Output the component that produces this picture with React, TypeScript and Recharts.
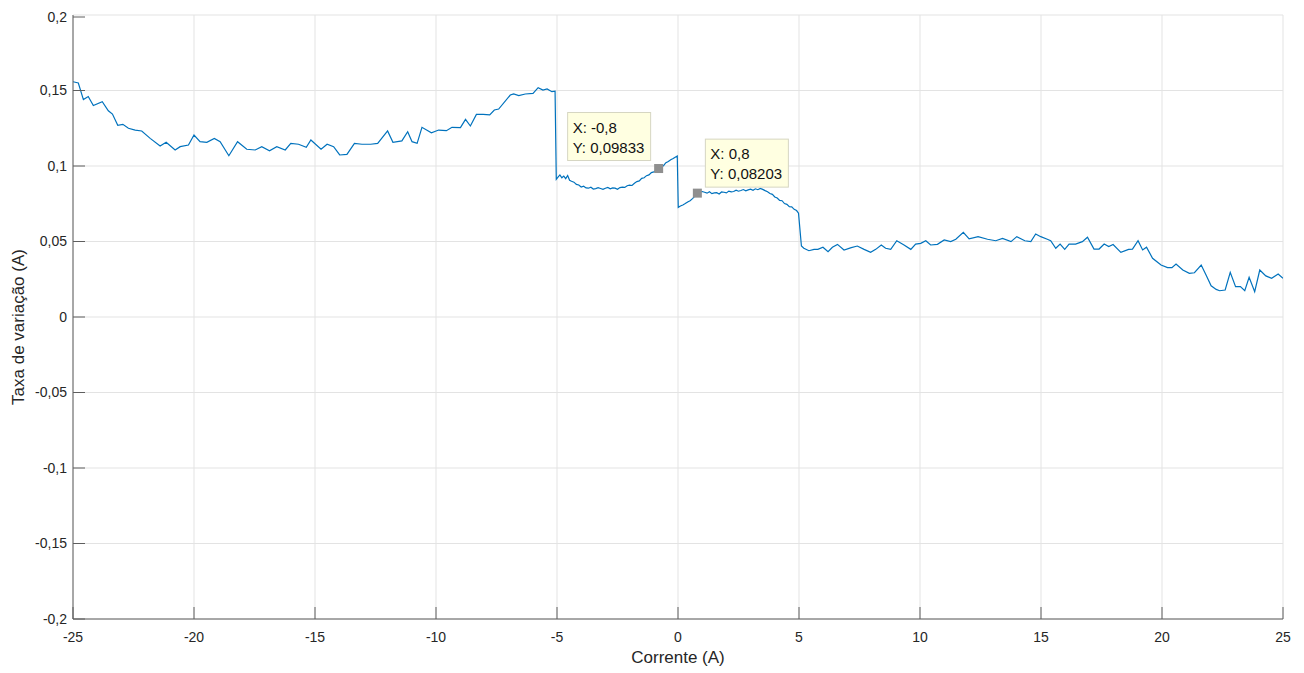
import {
  CartesianGrid,
  Line,
  LineChart,
  ReferenceDot,
  XAxis,
  YAxis,
} from "recharts";

// Corrente (A) / taxa de variação (A), region below -5 A
const leftCurrent = [
  -25.0, -24.78, -24.57, -24.37, -24.16, -23.79, -23.54, -23.37, -23.15, -22.94,
  -22.71, -22.43, -22.16, -21.81, -21.4, -21.15, -20.78, -20.57, -20.23, -20.0,
  -19.75, -19.47, -19.16, -18.92, -18.56, -18.2, -17.82, -17.47, -17.2, -16.88,
  -16.58, -16.23, -16.0, -15.68, -15.36, -15.17, -14.75, -14.5, -14.23, -13.98,
  -13.68, -13.37, -13.06, -12.7, -12.41, -12.0, -11.78, -11.41, -11.17, -10.99,
  -10.78, -10.58, -10.19, -9.89, -9.57, -9.34, -8.99, -8.78, -8.58, -8.33,
  -8.05, -7.78, -7.59, -7.41, -6.93, -6.79, -6.58, -6.31, -5.99, -5.78,
  -5.58, -5.41, -5.21, -5.08,
];
const leftRate = [
  0.1558, 0.155, 0.144, 0.146, 0.14, 0.1426, 0.1366, 0.1344, 0.127, 0.1276,
  0.125, 0.1238, 0.1232, 0.1183, 0.1132, 0.1157, 0.1106, 0.1128, 0.1139, 0.1205,
  0.1161, 0.1157, 0.1183, 0.1161, 0.1068, 0.1161, 0.1111, 0.1106, 0.1128, 0.1101,
  0.1128, 0.1106, 0.115, 0.1144, 0.1124, 0.1172, 0.1111, 0.1144, 0.1128, 0.1073,
  0.1077, 0.115, 0.1144, 0.1144, 0.115, 0.1232, 0.1157, 0.1166, 0.1227, 0.1161,
  0.115, 0.1256, 0.122, 0.1238, 0.1234, 0.1256, 0.1254, 0.1309, 0.1265, 0.1342,
  0.1342, 0.1338, 0.1371, 0.1377, 0.147, 0.1477, 0.1466, 0.1477, 0.1481, 0.1519,
  0.1503, 0.151, 0.1492, 0.1495,
];

// -5 A .. 0 A
const midNegCurrent = [
  -5.03, -4.95, -4.88, -4.8, -4.72, -4.64, -4.56, -4.48, -4.4, -4.3,
  -4.2, -4.1, -4.0, -3.9, -3.8, -3.7, -3.6, -3.5, -3.4, -3.3,
  -3.2, -3.1, -3.0, -2.9, -2.8, -2.7, -2.6, -2.5, -2.4, -2.3,
  -2.2, -2.1, -2.0, -1.9, -1.8, -1.7, -1.6, -1.5, -1.4, -1.3,
  -1.2, -1.1, -1.0, -0.9, -0.8, -0.7, -0.6, -0.5, -0.4, -0.3,
  -0.2, -0.1, -0.03,
];
const midNegRate = [
  0.0912, 0.0928, 0.0941, 0.0922, 0.0933, 0.0916, 0.0937, 0.0905, 0.0899, 0.0893,
  0.0878, 0.0874, 0.0861, 0.0866, 0.0855, 0.0853, 0.0859, 0.0847, 0.085, 0.0856,
  0.0851, 0.0845, 0.0853, 0.0858, 0.0849, 0.0855, 0.0853, 0.0846, 0.0857, 0.086,
  0.0858, 0.0869, 0.0873, 0.0871, 0.0886, 0.0897, 0.0901, 0.0918, 0.0922, 0.0936,
  0.0941, 0.0956, 0.0961, 0.097, 0.09833, 0.0994, 0.1002, 0.1022, 0.103, 0.1041,
  0.1049, 0.106, 0.1066,
];

// 0 A .. 5 A
const midPosCurrent = [
  0.01, 0.1, 0.2, 0.3, 0.4, 0.5, 0.6, 0.7, 0.8, 0.9,
  1.0, 1.1, 1.2, 1.3, 1.4, 1.5, 1.6, 1.7, 1.8, 1.9,
  2.0, 2.1, 2.2, 2.3, 2.4, 2.5, 2.6, 2.7, 2.8, 2.9,
  3.0, 3.1, 3.2, 3.3, 3.4, 3.5, 3.6, 3.7, 3.8, 3.9,
  4.0, 4.1, 4.2, 4.3, 4.4, 4.5, 4.6, 4.7, 4.8, 4.9,
  4.98, 5.1,
];
const midPosRate = [
  0.0726, 0.0735, 0.0742, 0.0751, 0.0762, 0.077, 0.0784, 0.0801, 0.08203, 0.0829,
  0.0831, 0.0826, 0.082, 0.0829, 0.0817, 0.0822, 0.0823, 0.0815, 0.0828, 0.0826,
  0.0822, 0.0834, 0.0829, 0.0831, 0.084, 0.0833, 0.0838, 0.0844, 0.0836, 0.0842,
  0.0846, 0.0839, 0.0849, 0.0843, 0.0851, 0.0845, 0.0837, 0.083, 0.0818, 0.0812,
  0.0795, 0.0788, 0.0772, 0.077, 0.0751, 0.0746, 0.0731, 0.0729, 0.0713, 0.0705,
  0.0687, 0.047,
];

// above 5 A
const rightCurrent = [
  5.2, 5.41, 5.62, 5.78, 5.99, 6.2, 6.38, 6.59, 6.86, 7.16,
  7.41, 7.69, 7.96, 8.17, 8.4, 8.58, 8.79, 9.04, 9.34, 9.62,
  9.82, 10.03, 10.24, 10.44, 10.72, 11.0, 11.27, 11.48, 11.79, 12.03,
  12.4, 12.79, 13.13, 13.41, 13.76, 14.0, 14.33, 14.58, 14.78, 14.99,
  15.26, 15.4, 15.61, 15.79, 15.98, 16.16, 16.43, 16.71, 16.92, 17.19,
  17.4, 17.61, 17.8, 17.98, 18.3, 18.62, 18.78, 19.01, 19.2, 19.36,
  19.61, 19.96, 20.23, 20.41, 20.58, 20.86, 21.13, 21.34, 21.62, 21.82,
  22.03, 22.24, 22.38, 22.61, 22.82, 23.04, 23.24, 23.42, 23.6, 23.83,
  24.04, 24.29, 24.53, 24.8, 25.0,
];
const rightRate = [
  0.0455, 0.0439, 0.0448, 0.0448, 0.0462, 0.0432, 0.0462, 0.0481, 0.0444, 0.0459,
  0.047, 0.0448, 0.0428, 0.0448, 0.0477, 0.0455, 0.0448, 0.0505, 0.0477, 0.0448,
  0.0483, 0.0488, 0.0505, 0.0477, 0.0481, 0.051, 0.0499, 0.0515, 0.0561, 0.0517,
  0.0532, 0.0515, 0.0505, 0.0521, 0.0499, 0.0532, 0.0505, 0.0499, 0.055, 0.0532,
  0.0515, 0.0505, 0.0455, 0.0483, 0.0448, 0.0483, 0.0483, 0.0499, 0.0528, 0.045,
  0.045, 0.0483, 0.0466, 0.048, 0.0428, 0.0448, 0.045, 0.0505, 0.0444, 0.0462,
  0.0389, 0.0344, 0.0327, 0.0327, 0.0351, 0.0311, 0.0289, 0.0293, 0.0344, 0.0278,
  0.0207, 0.0183, 0.0174, 0.0179, 0.0296, 0.0201, 0.0201, 0.0174, 0.0263, 0.0168,
  0.0311, 0.0272, 0.0256, 0.0285, 0.0256,
];

const xTicks = [-25, -20, -15, -10, -5, 0, 5, 10, 15, 20, 25];
const yTicks = [-0.2, -0.15, -0.1, -0.05, 0, 0.05, 0.1, 0.15, 0.2];

// data tips: [current, rate, side of the box]
const tips: [number, number, "left" | "right"][] = [
  [-0.8, 0.09833, "left"],
  [0.8, 0.08203, "right"],
];

const current = [...leftCurrent, ...midNegCurrent, ...midPosCurrent, ...rightCurrent];
const rate = [...leftRate, ...midNegRate, ...midPosRate, ...rightRate];
const data = current.map((x, i) => ({ x, y: rate[i] }));

const FONT = "'Liberation Sans', Arial, Helvetica, sans-serif";
const AXIS = "#5e5e5e";
const TEXT = "#262626";
const TICK_LEN = 12;

const fmt = (v: number) => String(Number(v.toFixed(5))).replace(".", ",");

function LeftTick(props: any) {
  const { x, y, payload } = props;
  const ax = x + 6;
  return (
    <g>
      <line x1={ax} y1={y} x2={ax + TICK_LEN} y2={y} stroke={AXIS} />
      <text x={x} y={y} dy="0.35em" textAnchor="end" fontSize={14} fill={TEXT} fontFamily={FONT}>
        {fmt(payload.value)}
      </text>
    </g>
  );
}

function BottomTick(props: any) {
  const { x, y, payload } = props;
  const ay = y - 13;
  return (
    <g>
      <line x1={x} y1={ay} x2={x} y2={ay - TICK_LEN} stroke={AXIS} />
      <text x={x} y={y} dy="0.71em" textAnchor="middle" fontSize={14} fill={TEXT} fontFamily={FONT}>
        {fmt(payload.value)}
      </text>
    </g>
  );
}

function TopTick(props: any) {
  const { x, y } = props;
  return <line x1={x} y1={y} x2={x} y2={y + TICK_LEN} stroke={AXIS} />;
}

function RightTick(props: any) {
  const { x, y } = props;
  return <line x1={x} y1={y} x2={x - TICK_LEN} y2={y} stroke={AXIS} />;
}

function DataTip(props: any) {
  const { cx, cy, side, xv, yv } = props;
  const w = 83;
  const h = 48;
  const bx = side === "left" ? cx - 8 - w : cx + 8;
  const by = side === "left" ? cy - 8 - h : cy - 6 - h;
  return (
    <g fontFamily={FONT}>
      <rect x={cx - 4.5} y={cy - 4.5} width={9} height={9} fill="#8f8f8f" />
      <rect x={bx} y={by} width={w} height={h} fill="#ffffe1" stroke="#d6d6c2" />
      <text x={bx + 5} y={by + 20} fontSize={15} fill="#111">
        X: {fmt(xv)}
      </text>
      <text x={bx + 5} y={by + 40} fontSize={15} fill="#111">
        Y: {fmt(yv)}
      </text>
    </g>
  );
}

export default function App() {
  return (
    <div style={{ width: 1288, height: 665, fontFamily: FONT, background: "#fff" }}>
      <LineChart
        width={1288}
        height={665}
        data={data}
        margin={{ top: 7, right: 13, bottom: 10, left: 0 }}
      >
        <CartesianGrid stroke="#e3e3e3" />
        <XAxis
          dataKey="x"
          type="number"
          domain={[-25, 25]}
          ticks={xTicks}
          allowDataOverflow
          height={44}
          stroke={AXIS}
          tickLine={false}
          tickSize={0}
          tickMargin={13}
          tick={<BottomTick />}
          label={{ value: "Corrente (A)", position: "insideBottom", offset: 0, fontSize: 17, fill: TEXT }}
        />
        <XAxis
          xAxisId="top"
          orientation="top"
          type="number"
          domain={[-25, 25]}
          ticks={xTicks}
          allowDataOverflow
          height={0}
          stroke={AXIS}
          tickLine={false}
          tickSize={0}
          tickMargin={0}
          tick={<TopTick />}
        />
        <YAxis
          type="number"
          domain={[-0.2, 0.2]}
          ticks={yTicks}
          allowDataOverflow
          width={65}
          stroke={AXIS}
          tickLine={false}
          tickSize={0}
          tickMargin={6}
          tick={<LeftTick />}
          label={{
            content: () => (
              <text
                transform="translate(10 319) rotate(-90)"
                dy="0.35em"
                textAnchor="middle"
                fontSize={17}
                fill={TEXT}
                fontFamily={FONT}
              >
                Taxa de variação (A)
              </text>
            ),
          }}
        />
        <YAxis
          yAxisId="r"
          orientation="right"
          type="number"
          domain={[-0.2, 0.2]}
          ticks={yTicks}
          allowDataOverflow
          width={0}
          stroke={AXIS}
          tickLine={false}
          tickSize={0}
          tickMargin={0}
          tick={<RightTick />}
        />
        <Line
          type="linear"
          dataKey="y"
          stroke="#0072BD"
          strokeWidth={1.2}
          dot={false}
          isAnimationActive={false}
        />
        {tips.map(([xv, yv, side]) => (
          <ReferenceDot
            key={xv}
            x={xv}
            y={yv}
            ifOverflow="visible"
            shape={(p: any) => <DataTip {...p} side={side} xv={xv} yv={yv} />}
          />
        ))}
      </LineChart>
    </div>
  );
}
